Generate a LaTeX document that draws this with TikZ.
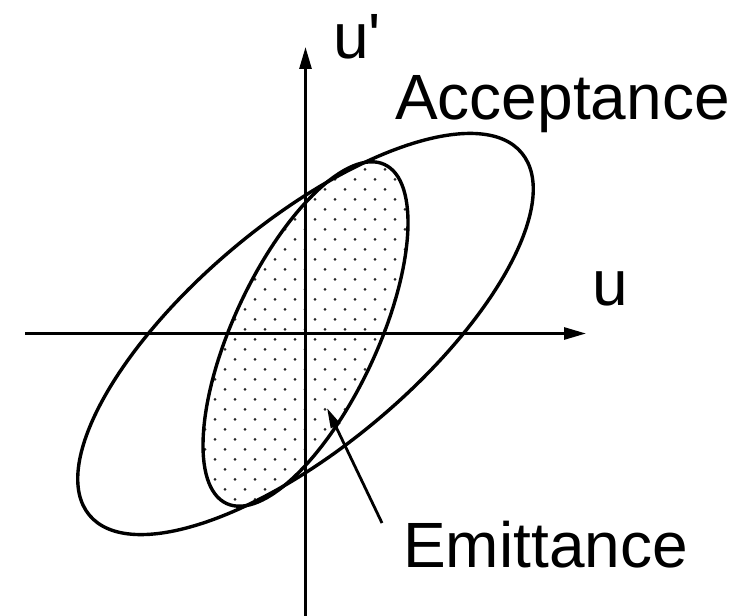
\documentclass[tikz,border=0pt]{standalone}
\usepackage{fontspec}
\setmainfont{Liberation Sans}[Ligatures=TeXOff]
\usetikzlibrary{arrows.meta}
\begin{document}
\begin{tikzpicture}[x=1pt,y=-1pt,
  axis/.style={line width=2.8pt,-{Triangle[length=22pt,width=12pt]}},
  ell/.style={line width=3.4pt},
  lbl/.style={inner sep=0pt,anchor=base west,font=\fontsize{64pt}{70pt}\selectfont},
  leader/.style={line width=2.8pt,-{Triangle[length=20pt,width=10pt]}},
  dotc/.style={fill=black!85}]
\useasboundingbox (0,0) rectangle (735,615);
\fill[white] (0,0) rectangle (735,615);
\coordinate (O) at (305.5,334);
\coordinate (xl) at (25,333.5);
\coordinate (xr) at (586,333.5);
\coordinate (yb) at (305.5,620);
\coordinate (yt) at (305.5,47);
% dotted emittance area
\begin{scope}
  \clip[rotate around={65:(O)}] (O) ellipse [x radius=187, y radius=72];
  \foreach \r in {0,...,36} {
    \foreach \c in {0,...,12} {
      \fill[dotc] ({195+20*\c+10*mod(\r,2)},{159.3+10*\r}) circle (1.5);
    }
  }
\end{scope}
% axes
\draw[axis] (xl) -- (xr);
\draw[axis] (yb) -- (yt);
% ellipses
\draw[ell,rotate around={40:(O)}] (O) ellipse [x radius=282, y radius=112];
\draw[ell,rotate around={65:(O)}] (O) ellipse [x radius=187, y radius=72];
% labels
\node[lbl] (up) at (333,59) {u'};
\node[lbl] (acc) at (395,119) {Acceptance};
\node[lbl] (u) at (592,305) {u};
\node[lbl] (em) at (403,567) {Emittance};
\coordinate (ls) at (382,523);
\coordinate (tip) at (327,408);
\draw[leader] (ls) -- (tip);
\end{tikzpicture}
\end{document}
